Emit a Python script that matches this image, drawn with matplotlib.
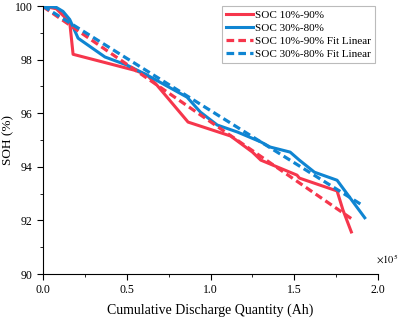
import matplotlib.pyplot as plt
from matplotlib.ticker import MultipleLocator

plt.rcParams['font.family'] = ['Liberation Serif', 'DejaVu Serif']

# cumulative discharge (x 1e5 Ah) and SOH (%)
x_1090 = [0.0, 0.08, 0.16, 0.18, 0.55, 0.62, 0.68, 0.866, 1.12, 1.25, 1.30, 1.516, 1.53, 1.755, 1.79, 1.84]
soh_1090 = [100.0, 99.9, 99.4, 98.2, 97.6, 97.43, 97.05, 95.67, 95.15, 94.55, 94.25, 93.69, 93.58, 93.1, 92.39, 91.57]

x_3080 = [0.0, 0.08, 0.12, 0.16, 0.21, 0.37, 0.5, 0.62, 0.86, 0.94, 1.04, 1.16, 1.30, 1.355, 1.475, 1.53, 1.62, 1.755, 1.92]
soh_3080 = [100.0, 99.95, 99.8, 99.5, 98.8, 98.1, 97.8, 97.43, 96.6, 96.04, 95.56, 95.3, 94.93, 94.74, 94.55, 94.25, 93.8, 93.5, 92.1]

# linear fits (intercept, slope per 1e5 Ah) and x range
fit_1090 = (99.98, -4.30, 1.845)
fit_3080 = (100.0, -3.90, 1.905)

red = '#f6364c'
blue = '#0f85d2'

fig, ax = plt.subplots(figsize=(4.01, 3.19), dpi=100)
fig.subplots_adjust(left=0.107, right=0.943, top=0.981, bottom=0.141)

ax.plot(x_1090, soh_1090, color=red, lw=2.2, label='SOC 10%-90%')
ax.plot(x_3080, soh_3080, color=blue, lw=2.2, label='SOC 30%-80%')
for (b, k, xe), c, lab in [(fit_1090, red, 'SOC 10%-90% Fit Linear'),
                           (fit_3080, blue, 'SOC 30%-80% Fit Linear')]:
    ax.plot([0, xe], [b, b + k * xe], color=c, lw=2.3, ls=(0, (2.4, 1.3)), label=lab)

ax.set_xlim(0, 2.0)
ax.set_ylim(90, 100)
ax.xaxis.set_major_locator(MultipleLocator(0.5))
ax.xaxis.set_minor_locator(MultipleLocator(0.25))
ax.yaxis.set_major_locator(MultipleLocator(2))
ax.yaxis.set_minor_locator(MultipleLocator(1))
ax.xaxis.set_major_formatter(lambda v, p: f'{v:.1f}')
ax.spines['top'].set_visible(False)
ax.spines['right'].set_visible(False)
ax.tick_params(which='major', direction='out', length=4, labelsize=8.5)
ax.tick_params(which='minor', direction='out', length=2.5)

ax.set_xlabel('Cumulative Discharge Quantity (Ah)', fontsize=10, labelpad=5)
ax.set_ylabel('SOH (%)', fontsize=9.5)
ax.yaxis.set_label_coords(-0.084, 0.5)
ax.text(0.995, 0.03, r'$\times10^5$', transform=ax.transAxes, fontsize=7.5,
        ha='left', va='bottom', math_fontfamily='stix')

leg = ax.legend(loc='upper right', bbox_to_anchor=(0.99, 1.0), fontsize=8,
                frameon=True, fancybox=False, handlelength=2.4, handletextpad=0.2,
                labelspacing=0.3, borderpad=0.35, borderaxespad=0.0)
leg.get_frame().set_edgecolor('#aaaaaa')
leg.get_frame().set_linewidth(0.8)

fig.savefig('out.png')
